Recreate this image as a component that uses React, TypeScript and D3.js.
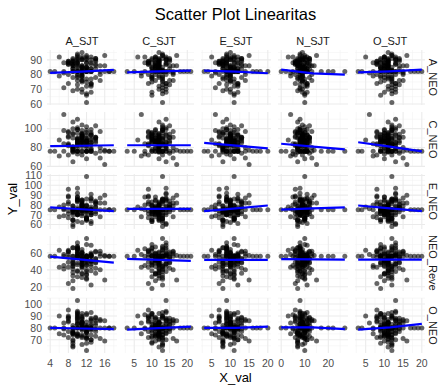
import * as d3 from "d3";

// column variables (x) and row variables (y), one value per respondent
const xNames = ["A_SJT", "C_SJT", "E_SJT", "N_SJT", "O_SJT"];
const yNames = ["A_NEO", "C_NEO", "E_NEO", "N_NEO_Reverse", "O_NEO"];

const aSjt = [
  11, 9, 13, 10, 12, 8, 14, 11, 10, 7, 12, 15, 9, 11, 13, 10, 6, 12, 11, 14,
  10, 8, 12, 16, 11, 9, 13, 10, 12, 11, 4, 10, 13, 9, 11, 12, 14, 8, 10, 17,
  11, 12, 9, 10, 13, 7, 11, 15, 12, 10, 9, 11, 14, 12, 10, 8, 13, 11, 18, 9,
  12, 10, 11, 13, 6, 12, 9, 14, 11, 10, 13, 8, 12, 10, 16, 11, 9, 12, 13, 5,
  10, 11, 14, 9, 12, 8, 11, 13, 10, 15, 12, 9, 11, 10, 13, 7, 12, 14, 11, 10,
  8, 13, 11, 12, 9, 10, 16, 11, 12, 13, 10, 9, 15, 11, 12, 8, 10, 13, 11, 9,
  12, 14, 10, 11, 7, 13, 12, 9, 17, 11,
];
const cSjt = [
  12, 10, 14, 11, 13, 9, 15, 12, 8, 13, 11, 16, 12, 10, 14, 13, 7, 12, 15, 11,
  13, 9, 12, 17, 11, 14, 10, 13, 12, 16, 3, 12, 14, 11, 13, 10, 15, 9, 12, 19,
  13, 11, 12, 14, 10, 8, 13, 16, 12, 11, 14, 12, 10, 13, 15, 9, 11, 12, 21, 13,
  10, 14, 12, 11, 6, 13, 15, 12, 10, 14, 12, 9, 13, 11, 18, 12, 14, 10, 13, 5,
  11, 13, 15, 12, 10, 9, 12, 14, 13, 16, 12, 11, 13, 10, 14, 8, 12, 15, 11, 13,
  9, 14, 12, 13, 11, 10, 17, 12, 13, 14, 11, 12, 16, 10, 13, 9, 12, 14, 11, 10,
  13, 15, 12, 11, 7, 14, 12, 10, 20, 12,
];
const eSjt = [
  10, 8, 12, 9, 11, 7, 13, 10, 9, 6, 11, 14, 8, 10, 12, 9, 5, 11, 10, 13,
  9, 7, 11, 15, 10, 12, 8, 9, 11, 10, 3, 9, 12, 8, 10, 11, 13, 7, 9, 16,
  10, 11, 8, 9, 12, 6, 10, 14, 11, 9, 8, 10, 13, 11, 9, 7, 12, 10, 20, 8,
  11, 9, 10, 12, 5, 11, 8, 13, 10, 9, 12, 7, 11, 9, 17, 10, 8, 11, 12, 4,
  9, 10, 13, 8, 11, 7, 10, 12, 9, 14, 11, 8, 10, 9, 12, 6, 11, 13, 10, 9,
  7, 12, 10, 11, 8, 9, 15, 10, 11, 12, 9, 8, 14, 10, 11, 7, 9, 12, 10, 8,
  11, 13, 9, 10, 6, 12, 11, 8, 18, 10,
];
const nSjt = [
  9, 7, 11, 8, 10, 6, 12, 9, 5, 8, 10, 13, 7, 9, 11, 8, 4, 10, 9, 12,
  8, 6, 10, 14, 9, 11, 7, 8, 10, 9, 0, 8, 11, 7, 9, 10, 12, 6, 8, 20,
  9, 10, 7, 8, 11, 5, 9, 13, 10, 8, 7, 9, 12, 10, 8, 6, 11, 9, 27, 7,
  10, 8, 9, 11, 3, 10, 7, 12, 9, 8, 11, 6, 10, 8, 22, 9, 7, 10, 11, 2,
  8, 9, 12, 7, 10, 6, 9, 11, 8, 13, 10, 7, 9, 8, 11, 5, 10, 12, 9, 8,
  6, 11, 9, 10, 7, 8, 15, 9, 10, 11, 8, 7, 13, 9, 10, 6, 8, 11, 9, 7,
  10, 12, 8, 9, 4, 11, 10, 7, 17, 9,
];
const oSjt = [
  11, 10, 13, 9, 12, 8, 14, 11, 10, 12, 9, 15, 11, 10, 13, 12, 7, 11, 14, 10,
  12, 9, 11, 16, 10, 13, 11, 12, 10, 15, 3, 11, 13, 10, 12, 9, 14, 8, 11, 19,
  12, 10, 11, 13, 9, 7, 12, 15, 11, 10, 13, 11, 9, 12, 14, 8, 10, 11, 20, 12,
  9, 13, 11, 10, 5, 12, 14, 11, 9, 13, 11, 8, 12, 10, 17, 11, 13, 9, 12, 4,
  10, 12, 14, 11, 9, 8, 11, 13, 12, 15, 11, 10, 12, 9, 13, 7, 11, 14, 10, 12,
  8, 13, 11, 12, 10, 9, 16, 11, 12, 13, 10, 11, 15, 9, 12, 8, 11, 13, 10, 9,
  12, 14, 11, 10, 6, 13, 11, 9, 18, 11,
];

const aNeo = [
  86, 78, 90, 82, 75, 88, 84, 82, 92, 71, 85, 80, 89, 68, 87, 93, 79, 82, 76, 91,
  83, 88, 72, 86, 90, 82, 77, 94, 84, 81, 82, 89, 74, 87, 85, 66, 91, 80, 88, 82,
  79, 92, 86, 70, 82, 88, 83, 76, 90, 85, 87, 82, 78, 93, 73, 89, 84, 91, 82, 69,
  88, 80, 86, 82, 92, 77, 82, 87, 75, 90, 84, 89, 67, 86, 82, 79, 91, 85, 73, 82,
  88, 76, 90, 84, 82, 87, 70, 92, 82, 86, 83, 88, 78, 91, 74, 82, 85, 89, 80, 82,
  87, 72, 90, 82, 86, 79, 93, 84, 61, 88, 76, 89, 82, 85, 91, 74, 87, 82, 83, 90,
  82, 86, 78, 92, 81, 68, 88, 84, 82, 95,
];
const cNeo = [
  88, 95, 79, 76, 102, 84, 91, 76, 73, 98, 86, 80, 107, 92, 83, 89, 71, 76, 94, 85,
  99, 82, 90, 77, 87, 76, 96, 84, 68, 91, 76, 85, 93, 80, 104, 88, 74, 97, 83, 76,
  90, 86, 78, 101, 76, 84, 92, 69, 87, 95, 81, 76, 89, 98, 85, 72, 93, 83, 76, 100,
  87, 79, 94, 76, 88, 82, 76, 91, 85, 110, 78, 96, 84, 90, 76, 86, 65, 93, 88, 76,
  99, 83, 87, 75, 76, 92, 81, 89, 76, 97, 84, 90, 72, 86, 94, 76, 80, 103, 88, 76,
  91, 85, 95, 76, 79, 89, 62, 93, 84, 99, 87, 80, 76, 91, 96, 83, 88, 76, 86, 94,
  76, 90, 82, 98, 115, 85, 89, 78, 76, 92,
];
const eNeo = [
  78, 70, 84, 75, 66, 81, 73, 75, 88, 69, 76, 82, 64, 79, 72, 86, 68, 75, 80, 71,
  85, 74, 67, 90, 77, 75, 63, 83, 72, 79, 75, 70, 87, 73, 81, 65, 78, 96, 71, 75,
  84, 68, 76, 92, 75, 80, 62, 87, 74, 70, 79, 75, 83, 66, 77, 89, 72, 80, 75, 58,
  73, 85, 69, 75, 78, 64, 75, 82, 71, 97, 76, 67, 86, 74, 75, 81, 60, 79, 70, 75,
  88, 72, 77, 65, 75, 83, 74, 91, 75, 68, 80, 73, 85, 71, 78, 75, 66, 84, 76, 75,
  71, 86, 74, 75, 79, 63, 82, 77, 109, 70, 84, 72, 75, 80, 67, 88, 73, 75, 78, 65,
  75, 81, 70, 85, 76, 61, 79, 74, 75, 83,
];
const nNeo = [
  52, 45, 60, 56, 38, 58, 48, 56, 65, 41, 54, 62, 33, 50, 47, 68, 43, 56, 59, 36,
  63, 49, 30, 57, 44, 56, 39, 66, 51, 61, 56, 46, 58, 27, 53, 70, 42, 55, 48, 56,
  60, 35, 52, 64, 56, 45, 31, 59, 50, 67, 47, 56, 62, 40, 55, 24, 51, 60, 56, 44,
  57, 38, 49, 56, 63, 29, 56, 53, 46, 72, 50, 61, 34, 58, 56, 42, 66, 48, 22, 56,
  59, 44, 53, 37, 56, 62, 47, 69, 56, 40, 55, 50, 64, 32, 57, 56, 45, 61, 52, 56,
  43, 58, 36, 56, 48, 65, 28, 54, 77, 50, 60, 41, 56, 57, 46, 63, 39, 56, 52, 18,
  56, 49, 61, 35, 58, 44, 53, 66, 56, 47,
];
const oNeo = [
  84, 76, 88, 80, 72, 86, 79, 80, 91, 74, 82, 87, 70, 83, 78, 93, 75, 80, 85, 73,
  89, 77, 71, 86, 81, 80, 68, 90, 76, 84, 80, 75, 87, 69, 83, 92, 77, 85, 74, 80,
  88, 73, 82, 94, 80, 79, 66, 86, 78, 84, 76, 80, 89, 71, 83, 95, 74, 87, 80, 65,
  81, 86, 73, 80, 90, 77, 80, 84, 72, 103, 79, 88, 67, 83, 80, 85, 75, 91, 70, 80,
  87, 74, 82, 64, 80, 89, 78, 93, 80, 71, 85, 77, 90, 73, 82, 80, 76, 88, 79, 80,
  72, 86, 81, 80, 75, 92, 69, 84, 61, 83, 88, 74, 80, 85, 77, 90, 73, 80, 82, 67,
  80, 86, 75, 89, 84, 70, 81, 78, 80, 92,
];

const xCols = [aSjt, cSjt, eSjt, nSjt, oSjt];
const yRows = [aNeo, cNeo, eNeo, nNeo, oNeo];

const xTicks = [
  [4, 8, 12, 16],
  [5, 10, 15, 20],
  [5, 10, 15, 20],
  [0, 10, 20],
  [5, 10, 15, 20],
];
const yTicks = [
  [60, 70, 80, 90],
  [60, 80, 100],
  [60, 70, 80, 90, 100, 110],
  [20, 40, 60],
  [70, 80, 90, 100],
];

// smoother values, evenly spaced over each column's x range
const smooth = [
  [[81.2, 82, 83.2], [81.5, 82.2, 82.7], [82.7, 82, 80.9], [83.3, 80.8, 80], [81.5, 82.2, 83.3]],
  [[81.4, 81.9, 82.4], [82.4, 82.4, 82.4], [85, 82, 79], [84, 81, 78], [85.6, 81, 76]],
  [[77.6, 75.6, 73.6], [76, 76, 76], [73.6, 76.5, 79.4], [75.3, 76.4, 77.6], [79.4, 76.5, 73.6]],
  [[55.6, 52, 48.6], [53, 51.8, 50.6], [51.8, 51.8, 51.8], [52.6, 52.3, 52], [52, 52, 52]],
  [[80, 79.5, 79], [78.6, 79.8, 81], [80, 80, 81], [80.5, 80.5, 79], [78.6, 80.5, 83.3]],
];

const W = 439;
const H = 388;
const left = 47;
const top = 50;
const panelW = 70;
const panelH = 55;
const gap = 7;
const font = "'Liberation Sans', Arial, sans-serif";

function expand(vals: number[]) {
  const [lo, hi] = d3.extent(vals) as [number, number];
  const pad = (hi - lo) * 0.05;
  return [lo - pad, hi + pad];
}

function minors(ticks: number[], dom: number[]) {
  const step = ticks[1] - ticks[0];
  const ext = [ticks[0] - step, ...ticks, ticks[ticks.length - 1] + step];
  const out: number[] = [];
  for (let i = 0; i < ext.length - 1; i++) {
    const m = (ext[i] + ext[i + 1]) / 2;
    if (m >= dom[0] && m <= dom[1]) out.push(m);
  }
  return out;
}

export default function App() {
  const xScales = xCols.map((v, j) => {
    const x0 = left + j * (panelW + gap);
    return d3.scaleLinear().domain(expand(v)).range([x0, x0 + panelW]);
  });
  const yScales = yRows.map((v, i) => {
    const y0 = top + i * (panelH + gap);
    return d3.scaleLinear().domain(expand(v)).range([y0 + panelH, y0]);
  });

  const line = d3.line<[number, number]>().x((d) => d[0]).y((d) => d[1]);

  return (
    <svg
      width={W}
      height={H}
      style={{ position: "absolute", left: 0, top: 0, background: "#fff" }}
      fontFamily={font}
    >
      <defs>
        {yNames.map((_, i) => (
          <clipPath id={`strip${i}`} key={i}>
            <rect x={424} y={top + i * (panelH + gap)} width={15} height={panelH} />
          </clipPath>
        ))}
      </defs>
      <text x={235.5} y={20} textAnchor="middle" fontSize={16.5} fill="#000">
        Scatter Plot Linearitas
      </text>

      {yRows.map((yv, i) =>
        xCols.map((xv, j) => {
          const x = xScales[j];
          const y = yScales[i];
          const [x0, x1] = x.range();
          const [y1, y0] = y.range();
          const xd = x.domain();
          const yd = y.domain();
          const [lo, hi] = d3.extent(xv) as [number, number];
          const sm = smooth[i][j];
          const pts = sm.map(
            (v, k) => [x(lo + ((hi - lo) * k) / (sm.length - 1)), y(v)] as [number, number]
          );
          return (
            <g key={`${i}-${j}`}>
              {minors(xTicks[j], xd).map((t) => (
                <line key={`mx${t}`} x1={x(t)} x2={x(t)} y1={y0} y2={y1} stroke="#F2F2F2" strokeWidth={0.55} />
              ))}
              {minors(yTicks[i], yd).map((t) => (
                <line key={`my${t}`} x1={x0} x2={x1} y1={y(t)} y2={y(t)} stroke="#F2F2F2" strokeWidth={0.55} />
              ))}
              {xTicks[j].map((t) => (
                <line key={`x${t}`} x1={x(t)} x2={x(t)} y1={y0} y2={y1} stroke="#EBEBEB" strokeWidth={1.07} />
              ))}
              {yTicks[i].map((t) => (
                <line key={`y${t}`} x1={x0} x2={x1} y1={y(t)} y2={y(t)} stroke="#EBEBEB" strokeWidth={1.07} />
              ))}
              {xv.map((d, k) => (
                <circle key={k} cx={x(d)} cy={y(yv[k])} r={2.5} fill="#000" fillOpacity={0.6} />
              ))}
              <path d={line(pts) ?? ""} fill="none" stroke="#0000FF" strokeWidth={2.2} />
            </g>
          );
        })
      )}

      {/* column strips + x axes */}
      {xNames.map((n, j) => {
        const x = xScales[j];
        const [x0, x1] = x.range();
        return (
          <g key={n}>
            <text x={(x0 + x1) / 2} y={45} textAnchor="middle" fontSize={11} fill="#1A1A1A">
              {n}
            </text>
            {xTicks[j].map((t) => (
              <text key={t} x={x(t)} y={367} textAnchor="middle" fontSize={10.5} fill="#4D4D4D">
                {t}
              </text>
            ))}
          </g>
        );
      })}

      {/* row strips + y axes */}
      {yNames.map((n, i) => {
        const y = yScales[i];
        const [y1, y0] = y.range();
        const cy = (y0 + y1) / 2;
        return (
          <g key={n}>
            <g clipPath={`url(#strip${i})`}>
              <text
                transform={`translate(429,${cy}) rotate(90)`}
                textAnchor="middle"
                fontSize={11}
                fill="#1A1A1A"
              >
                {n}
              </text>
            </g>
            {yTicks[i].map((t) => (
              <text key={t} x={42} y={y(t)} dy="0.36em" textAnchor="end" fontSize={10.5} fill="#4D4D4D">
                {t}
              </text>
            ))}
          </g>
        );
      })}

      <text x={235.5} y={382} textAnchor="middle" fontSize={13} fill="#000">
        X_val
      </text>
      <text transform="translate(17,199) rotate(-90)" textAnchor="middle" fontSize={13} fill="#000">
        Y_val
      </text>
    </svg>
  );
}
